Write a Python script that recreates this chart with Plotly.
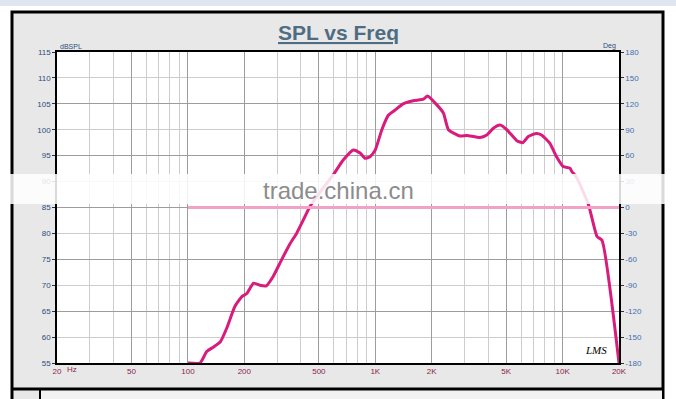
import math
import plotly.graph_objects as go

# ---------------- data ----------------
freq_hz = [100, 116, 126, 137, 149, 161, 178, 194, 206, 224, 242, 262, 285, 316, 352, 380,
           413, 448, 520, 596, 676, 764, 830, 882, 938, 1000, 1084, 1174, 1276, 1408, 1596,
           1808, 1898, 2132, 2312, 2458, 2832, 3080, 3620, 3936, 4272, 4640, 5040, 5700,
           6130, 6560, 7260, 7720, 8540, 9280, 10080, 10940, 11180, 11880, 13760, 15270,
           16220, 20000]
spl_db = [55, 55, 57.2, 58.1, 59.1, 61.7, 65.9, 67.8, 68.4, 70.4, 70.0, 69.9, 71.7, 74.9,
          78.1, 80.0, 82.6, 85.2, 88.5, 91.3, 94.2, 96.1, 95.5, 94.5, 94.8, 96.1, 100.0,
          102.8, 103.8, 105.0, 105.6, 105.9, 106.5, 104.8, 103.2, 100.0, 98.8, 98.9, 98.5,
          99.0, 100.3, 100.9, 100.0, 97.9, 97.5, 98.7, 99.3, 99.0, 97.4, 94.8, 92.9, 92.6,
          92.0, 90.8, 85.5, 79.4, 78.7, 55]

phase_freq = [100, 20000]
phase_deg = [0, 0]

x_tickvals = [20, 50, 100, 200, 500, 1000, 2000, 5000, 10000, 20000]
x_ticktext = ["20", "50", "100", "200", "500", "1K", "2K", "5K", "10K", "20K"]
x_minor = [30, 40, 60, 70, 80, 90, 300, 400, 600, 700, 800, 900,
           3000, 4000, 6000, 7000, 8000, 9000]

y_tickvals = list(range(55, 116, 5))
y_minor = [60, 70, 80, 90, 100, 110]
deg_tickvals = list(range(-180, 181, 30))
deg_ticktext = [str(v) for v in deg_tickvals]
deg_dark = [-120, -60, 0, 60, 120]

# ---------------- geometry helpers (page pixels -> paper) ----------------
W, H = 676, 399
L, R, T, B = 57, 619, 52, 363


def px(xp):
    return (xp - L) / (R - L)


def py(yp):
    return (B - yp) / (B - T)


fig = go.Figure()

fig.add_trace(go.Scatter(x=phase_freq, y=phase_deg, yaxis="y2", mode="lines",
                         line=dict(color="#f2a2c6", width=3), hoverinfo="skip"))
fig.add_trace(go.Scatter(x=freq_hz, y=spl_db, mode="lines",
                         line=dict(color="#d81b7c", width=3, shape="spline", smoothing=0.5),
                         cliponaxis=False, hoverinfo="skip"))

shapes = [
    # top light strip
    dict(type="rect", xref="paper", yref="paper", x0=px(0), x1=px(W), y0=py(6), y1=py(0),
         fillcolor="#dfe6f0", line=dict(width=0), layer="below"),
    # outer gray frame
    dict(type="rect", xref="paper", yref="paper", x0=px(12), x1=px(663), y0=py(420), y1=py(12),
         fillcolor="#e8e8e8", line=dict(color="black", width=3), layer="below"),
    # lower box
    dict(type="rect", xref="paper", yref="paper", x0=px(40), x1=px(663), y0=py(420), y1=py(389),
         fillcolor="#f2f2f2", line=dict(color="black", width=2), layer="below"),
    dict(type="line", xref="paper", yref="paper", x0=px(12), x1=px(663), y0=py(389), y1=py(389),
         line=dict(color="black", width=3), layer="below"),
    # white plot area
    dict(type="rect", xref="paper", yref="paper", x0=0, x1=1, y0=0, y1=1,
         fillcolor="white", line=dict(width=0), layer="below"),
    # watermark band
    dict(type="rect", xref="paper", yref="paper", x0=px(0), x1=px(W), y0=py(204), y1=py(174),
         fillcolor="white", opacity=0.85, line=dict(width=0), layer="above"),
]

annotations = [
    dict(text="<b><u>SPL vs Freq</u></b>", x=0.5, y=py(33), xref="paper", yref="paper",
         showarrow=False, font=dict(size=21, color="#4f6d82", family="Liberation Sans"),
         xanchor="center", yanchor="middle"),
    dict(text="dBSPL", x=px(58), y=py(47), xref="paper", yref="paper", showarrow=False,
         font=dict(size=7, color="#2b4d7e"), xanchor="left", yanchor="middle"),
    dict(text="Deg", x=px(618), y=py(46), xref="paper", yref="paper", showarrow=False,
         font=dict(size=7, color="#2b4d7e"), xanchor="right", yanchor="middle"),
    dict(text="Hz", x=px(65), y=py(369), xref="paper", yref="paper", showarrow=False,
         font=dict(size=8, color="#8b1d4a"), xanchor="left", yanchor="middle"),
    dict(text="<i>LMS</i>", x=px(596), y=py(350), xref="paper", yref="paper", showarrow=False,
         font=dict(size=11, color="black", family="Liberation Serif"),
         xanchor="center", yanchor="middle"),
    dict(text="trade.china.cn", x=0.5, y=py(190), xref="paper", yref="paper", showarrow=False,
         font=dict(size=24, color="#8c8c8c", family="Liberation Sans"),
         xanchor="center", yanchor="middle"),
]

fig.update_layout(
    width=W, height=H,
    margin=dict(l=L, r=W - R, t=T, b=H - B, pad=0),
    paper_bgcolor="white", plot_bgcolor="white",
    showlegend=False, hovermode=False,
    font=dict(family="Liberation Sans", size=8),
    shapes=shapes, annotations=annotations,
    xaxis=dict(type="log", range=[math.log10(20), math.log10(20000)],
               tickmode="array", tickvals=x_tickvals, ticktext=x_ticktext,
               tickfont=dict(size=8, color="#8b1d4a"), ticks="",
               showgrid=True, gridcolor="#9c9c9c", gridwidth=1,
               minor=dict(tickmode="array", tickvals=x_minor, showgrid=True,
                          gridcolor="#cdcdcd", gridwidth=1),
               showline=True, linecolor="black", linewidth=1.5, mirror=True,
               zeroline=False, fixedrange=True),
    yaxis=dict(range=[55, 115], tickmode="array", tickvals=y_tickvals,
               tickfont=dict(size=8, color="#2b4d7e"), ticks="outside", ticklen=3,
               tickcolor="#333333", showgrid=False,
               minor=dict(tickmode="array", tickvals=y_minor, showgrid=True,
                          gridcolor="#cdcdcd", gridwidth=1),
               showline=True, linecolor="black", linewidth=1.5,
               zeroline=False, fixedrange=True),
    yaxis2=dict(range=[-180, 180], overlaying="y", side="right", tickmode="array",
                tickvals=deg_tickvals, ticktext=deg_ticktext,
                tickfont=dict(size=8, color="#3f6fae"), ticks="outside", ticklen=3,
                tickcolor="#333333", showgrid=False,
                minor=dict(tickmode="array", tickvals=deg_dark, showgrid=True,
                           gridcolor="#9c9c9c", gridwidth=1),
                showline=True, linecolor="black", linewidth=1.5,
                zeroline=False, fixedrange=True),
)

fig.write_html("out.html", config={"displayModeBar": False})
